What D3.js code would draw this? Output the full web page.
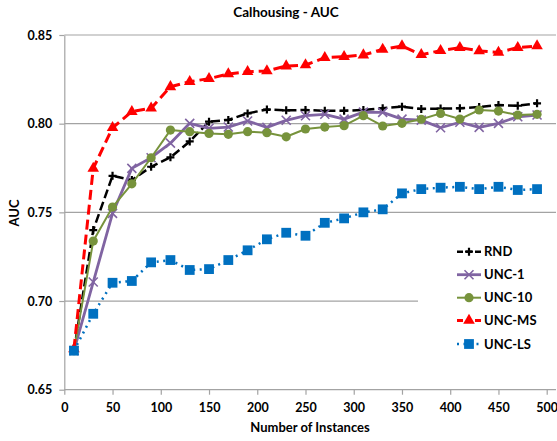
<!DOCTYPE html>
<html>
<head>
<meta charset="utf-8">
<script src="https://cdn.jsdelivr.net/npm/d3@7"></script>
<style>
  body { margin: 0; background: #fff; }
  svg { display: block; font-family: Lato, "Open Sans", "Liberation Sans", sans-serif; font-weight: bold; }
</style>
</head>
<body>
<svg id="chart" width="557" height="441"></svg>
<script>
// ---- data ----
const instances = [10,30,50,70,90,110,130,150,170,190,210,230,250,270,290,310,330,350,370,390,410,430,450,470,490];
const rnd   = [0.672,0.740,0.7706,0.7682,0.7757,0.781,0.790,0.8011,0.8021,0.8058,0.808,0.8075,0.8077,0.8073,0.8073,0.8077,0.8087,0.8096,0.8083,0.8085,0.8087,0.8094,0.8105,0.8101,0.8115];
const unc1  = [0.672,0.7107,0.7494,0.7748,0.7808,0.789,0.8002,0.7974,0.7981,0.8015,0.7979,0.8019,0.8045,0.8053,0.8026,0.8065,0.8064,0.8026,0.802,0.7977,0.8008,0.7979,0.8002,0.8039,0.8049];
const unc10 = [0.672,0.7338,0.753,0.7661,0.7808,0.7964,0.7955,0.7945,0.794,0.7955,0.7949,0.7926,0.797,0.7981,0.7989,0.8045,0.7987,0.8002,0.8025,0.8058,0.8026,0.8077,0.8071,0.8049,0.8053];
const uncMS = [0.673,0.7748,0.7977,0.8068,0.8087,0.8208,0.8237,0.8254,0.828,0.8293,0.8297,0.8325,0.8331,0.8372,0.8378,0.8387,0.8419,0.8438,0.8389,0.8412,0.8429,0.841,0.8402,0.8429,0.8438];
const uncLS = [0.672,0.6928,0.7103,0.7113,0.7218,0.7231,0.7175,0.718,0.7231,0.7286,0.7348,0.7385,0.7368,0.7441,0.7466,0.750,0.7517,0.7607,0.7631,0.7639,0.7644,0.7631,0.7644,0.7626,0.7631];
const seriesNames = ["RND","UNC-1","UNC-10","UNC-MS","UNC-LS"];
const xTicks = [0,50,100,150,200,250,300,350,400,450,500];
const yTicks = [0.65,0.70,0.75,0.80,0.85];
const titleText = "Calhousing - AUC";
const xTitle = "Number of Instances";
const yTitle = "AUC";

// ---- layout ----
const svg = d3.select("#chart");
const plotLeft = 64.3, plotRight = 556, plotTop = 35, plotBottom = 389.7;
const x = d3.scaleLinear().domain([0, 500]).range([plotLeft, 546.7]);
const y = d3.scaleLinear().domain([0.65, 0.85]).range([plotBottom, plotTop]);
const gridColor = "#a3a3a3";

// gridlines
svg.append("g").selectAll("line").data(yTicks.slice(1)).join("line")
  .attr("x1", plotLeft).attr("x2", plotRight)
  .attr("y1", d => y(d)).attr("y2", d => y(d))
  .attr("stroke", gridColor).attr("stroke-width", 1.2);

// y axis
const yAxis = svg.append("g").attr("transform", `translate(${plotLeft},0)`)
  .call(d3.axisLeft(y).tickValues(yTicks).tickFormat(d3.format(".2f")).tickSizeInner(5).tickSizeOuter(0).tickPadding(7));
yAxis.select(".domain").attr("stroke", gridColor).attr("stroke-width", 1.2);
yAxis.selectAll(".tick line").attr("stroke", gridColor).attr("stroke-width", 1.2);
yAxis.selectAll(".tick text").attr("fill", "#000").style("font-size", "12.5px").style("font-weight", "bold").style("font-family", "Lato, sans-serif");

// x axis
const xAxis = svg.append("g").attr("transform", `translate(0,${plotBottom})`)
  .call(d3.axisBottom(x).tickValues(xTicks).tickFormat(d3.format("d")).tickSizeInner(5).tickSizeOuter(0).tickPadding(8));
xAxis.select(".domain").remove();
xAxis.append("line").attr("x1", plotLeft).attr("x2", plotRight).attr("y1", 0).attr("y2", 0)
  .attr("stroke", gridColor).attr("stroke-width", 1.2);
xAxis.selectAll(".tick line").attr("stroke", gridColor).attr("stroke-width", 1.2);
xAxis.selectAll(".tick text").attr("fill", "#000").style("font-size", "12.5px").style("font-weight", "bold").style("font-family", "Lato, sans-serif");

// titles
svg.append("text").attr("x", 286).attr("y", 17).attr("text-anchor", "middle")
  .style("font-size", "13.5px").text(titleText);
svg.append("text").attr("x", 310).attr("y", 432).attr("text-anchor", "middle")
  .style("font-size", "13px").text(xTitle);
svg.append("text").attr("transform", "translate(19,213) rotate(-90)").attr("text-anchor", "middle")
  .style("font-size", "13px").text(yTitle);

// series styles
const plusPath = "M-4,0H4M0,-4V4";
const xPath = "M-4.5,-4.5L4.5,4.5M-4.5,4.5L4.5,-4.5";
const styles = [
  { name: seriesNames[0], values: rnd,   color: "#000000", width: 2.5, dash: "9,4", marker: "plus" },
  { name: seriesNames[1], values: unc1,  color: "#8064A2", width: 2.8, dash: null,  marker: "x" },
  { name: seriesNames[2], values: unc10, color: "#77933C", width: 2,   dash: null,  marker: "circle" },
  { name: seriesNames[3], values: uncMS, color: "#FF0000", width: 3,   dash: "10,5", marker: "triangle" },
  { name: seriesNames[4], values: uncLS, color: "#0070C0", width: 2.5, dash: "2,4.5", marker: "square" }
];

function drawMarker(g, type, color) {
  if (type === "plus") {
    g.append("path").attr("d", plusPath).attr("stroke", color).attr("stroke-width", 2.2).attr("fill", "none");
  } else if (type === "x") {
    g.append("path").attr("d", xPath).attr("stroke", color).attr("stroke-width", 1.6).attr("fill", "none");
  } else if (type === "circle") {
    g.append("circle").attr("r", 4.6).attr("fill", color);
  } else if (type === "triangle") {
    g.append("path").attr("d", d3.symbol(d3.symbolTriangle, 58)()).attr("fill", color);
  } else if (type === "square") {
    g.append("path").attr("d", d3.symbol(d3.symbolSquare, 96)()).attr("fill", color);
  }
}

const line = d3.line().x(d => x(d[0])).y(d => y(d[1]));
styles.forEach(s => {
  const pts = instances.map((t, i) => [t, s.values[i]]);
  const g = svg.append("g");
  g.append("path").datum(pts).attr("d", line)
    .attr("fill", "none").attr("stroke", s.color).attr("stroke-width", s.width)
    .attr("stroke-dasharray", s.dash).attr("stroke-linejoin", "round");
  pts.forEach(p => {
    const m = g.append("g").attr("transform", `translate(${x(p[0])},${y(p[1])})`);
    drawMarker(m, s.marker, s.color);
  });
});

// legend
const legend = svg.append("g");
legend.append("rect").attr("x", 418).attr("y", 238).attr("width", 138).attr("height", 118).attr("fill", "#fff");
const legendY = [251.7, 274.7, 297.7, 320.5, 344];
styles.forEach((s, i) => {
  const row = legend.append("g").attr("transform", `translate(0,${legendY[i]})`);
  row.append("line").attr("x1", 457).attr("x2", 481).attr("y1", 0).attr("y2", 0)
    .attr("stroke", s.color).attr("stroke-width", s.width)
    .attr("stroke-dasharray", s.dash ? (s.marker === "square" ? "2,4.5" : "6,3") : null);
  const m = row.append("g").attr("transform", "translate(469,0)");
  drawMarker(m, s.marker, s.color);
  row.append("text").attr("x", 484).attr("y", 0).attr("dy", "0.35em")
    .style("font-size", "13px").text(s.name);
});
</script>
</body>
</html>
